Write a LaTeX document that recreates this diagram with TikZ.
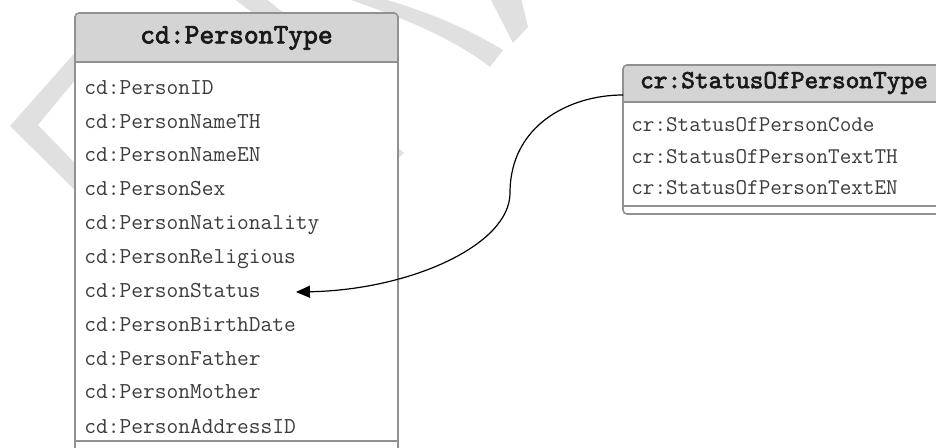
\documentclass[tikz,border=0pt]{standalone}
\usepackage{tikz}
\usepackage{xcolor}
\usepackage{fontspec}
\usetikzlibrary{arrows.meta, calc, positioning}
\newfontfamily\headfont{lmmono10-regular.otf}[FakeBold=2.5]
\definecolor{headgray}{RGB}{212,212,212}
\definecolor{linegray}{RGB}{145,145,145}
\definecolor{textgray}{RGB}{60,60,60}
\definecolor{markgray}{RGB}{224,224,224}

\begin{document}
\begin{tikzpicture}[x=0.5pt, y=-0.5pt, >={Triangle[length=7pt, width=6pt]},
        boxline/.style={draw=linegray, line width=0.8pt},
        headtext/.style={inner sep=0pt, text=black!90, font=\headfont\fontsize{14.1}{16}\selectfont},
        rowtext/.style={inner sep=0pt, anchor=base west, text=textgray, font=\ttfamily\fontsize{11.4}{13}\selectfont}]
        \useasboundingbox (0,0) rectangle (936,448);
        \clip (0,0) rectangle (936,448);

        % Watermark
        \fill[markgray] (10,126) -- (95,30) -- (95,56) -- (38,125) -- (95,184) -- (95,210) -- cycle;
        \fill[markgray] (233,-2) -- (265,-2) -- (300,26) -- (270,26) -- cycle;
        \fill[markgray] (345,-2) -- (380,-2) .. controls (430,12) and (470,30) .. (503,50)
            -- (490,67) .. controls (455,40) and (410,20) .. cycle;
        \fill[markgray] (490,-2) -- (521,-2) -- (528,27) -- (513,43) -- cycle;
        \fill[markgray] (398,148) -- (404,153) -- (398,158) -- cycle;

        % Person box
        \fill[white] (75,13) rectangle (398,470);
        \fill[headgray, rounded corners=2pt] (75,62) -- (75,13) -- (398,13) -- (398,62);
        \draw[boxline, rounded corners=2pt] (75,13) rectangle (398,470);
        \draw[boxline] (75,62) -- (398,62) (75,441) -- (398,441);
        \node[headtext] (ptype) at (236.5,38) {cd:PersonType};
        \node[rowtext] (pid) at (84,95) {cd:PersonID};
        \node[rowtext] (pnameth) at (84,129) {cd:PersonNameTH};
        \node[rowtext] (pnameen) at (84,162) {cd:PersonNameEN};
        \node[rowtext] (psex) at (84,196) {cd:PersonSex};
        \node[rowtext] (pnation) at (84,230) {cd:PersonNationality};
        \node[rowtext] (preligion) at (84,264) {cd:PersonReligious};
        \node[rowtext] (pstatus) at (84,298) {cd:PersonStatus};
        \node[rowtext] (pbirth) at (84,332) {cd:PersonBirthDate};
        \node[rowtext] (pfather) at (84,365) {cd:PersonFather};
        \node[rowtext] (pmother) at (84,399) {cd:PersonMother};
        \node[rowtext] (paddress) at (84,433) {cd:PersonAddressID};

        % Status box
        \fill[white] (623,65) rectangle (945,214);
        \fill[headgray, rounded corners=2pt] (623,102) -- (623,65) -- (945,65) -- (945,102);
        \draw[boxline, rounded corners=2pt] (623,65) rectangle (945,214);
        \draw[boxline] (623,102) -- (945,102) (623,206) -- (945,206);
        \node[headtext, font=\headfont\fontsize{13.05}{15}\selectfont] (stype) at (784,83) {cr:StatusOfPersonType};
        \node[rowtext, font=\ttfamily\fontsize{11.24}{13}\selectfont] (scode) at (631,132) {cr:StatusOfPersonCode};
        \node[rowtext, font=\ttfamily\fontsize{11.24}{13}\selectfont] (stextth) at (631,164) {cr:StatusOfPersonTextTH};
        \node[rowtext, font=\ttfamily\fontsize{11.24}{13}\selectfont] (stexten) at (631,195) {cr:StatusOfPersonTextEN};

        % Link
        \coordinate (sout) at (623,95);
        \coordinate (stip) at ($(pstatus.base east)+(35,-6)$);
        \draw[->, line width=0.6pt] (sout) .. controls (570,95) and (510,125) .. (510,193)
            .. controls (510,245) and (410,290) .. (stip);
    \end{tikzpicture}
\end{document}
